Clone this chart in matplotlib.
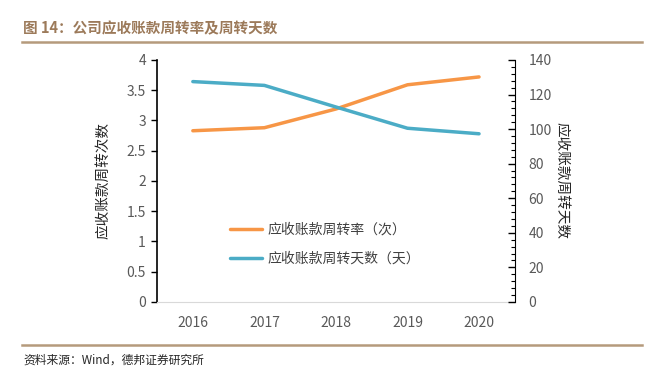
import matplotlib.pyplot as plt
from matplotlib.lines import Line2D
from matplotlib.ticker import MultipleLocator

plt.rcParams['font.family'] = ['Noto Sans CJK SC', 'DejaVu Sans']

# 数据
anos = ["2016", "2017", "2018", "2019", "2020"]
taxa = [2.83, 2.88, 3.19, 3.59, 3.72]
dias = [127.5, 125.3, 112.8, 100.5, 97.3]

fig = plt.figure(figsize=(6.6, 3.75), dpi=100)
ax = fig.add_axes([0.238, 0.195, 0.542, 0.645])
ax2 = ax.twinx()

x = list(range(len(anos)))
l1, = ax.plot(x, taxa, color="#F79646", linewidth=2.5, solid_capstyle="round")
l2, = ax2.plot(x, dias, color="#4BACC6", linewidth=2.5, solid_capstyle="round")

ax.set_xlim(-0.5, len(anos) - 0.5)
ax.set_ylim(0, 4)
ax2.set_ylim(0, 140)
ax.set_yticks([0, 0.5, 1, 1.5, 2, 2.5, 3, 3.5, 4])
ax.set_yticklabels(["0", "0.5", "1", "1.5", "2", "2.5", "3", "3.5", "4"])
ax2.set_yticks(range(0, 141, 20))
ax2.yaxis.set_minor_locator(MultipleLocator(4))
ax.set_xticks(x)
ax.set_xticklabels(anos)

for a in (ax, ax2):
    a.spines["top"].set_visible(False)
ax.spines["right"].set_visible(False)
ax.spines["left"].set_visible(False)
ax2.spines["left"].set_visible(False)
ax.spines["bottom"].set_color("#D9D9D9")
ax2.spines["bottom"].set_visible(False)
ax2.spines["right"].set_color("black")

# eixo esquerdo desenhado como linha preta
ax.axvline(-0.5, color="black", linewidth=1.2, clip_on=False)

ax.tick_params(axis="y", colors="black", labelcolor="#595959", labelsize=10, length=4, width=1, pad=4)
ax.tick_params(axis="x", length=0, labelcolor="#595959", labelsize=10, pad=10)
ax2.tick_params(axis="y", which="major", direction="in", length=5, width=1, labelcolor="#595959", labelsize=10, pad=10)
ax2.tick_params(axis="y", which="minor", direction="in", length=3, width=0.8)

ax.set_ylabel("应收账款周转次数", fontsize=10.5, color="#262626", labelpad=12)
ax2.set_ylabel("应收账款周转天数", fontsize=10.5, color="#262626", rotation=270, labelpad=12)

leg = ax.legend([l1, l2], ["应收账款周转率（次）", "应收账款周转天数（天）"],
                loc="upper left", bbox_to_anchor=(0.17, 0.38), frameon=False,
                fontsize=10, labelcolor="#404040", handlelength=2.3,
                handletextpad=0.4, labelspacing=1.1)

# título e linhas decorativas
fig.text(0.035, 0.925, "图 14：公司应收账款周转率及周转天数", fontsize=10.5,
         color="#9C7A5A", fontweight="bold", ha="left", va="center")
fig.add_artist(Line2D([0.033, 0.973], [0.887, 0.887], color="#B59A7C", linewidth=1.8))
fig.add_artist(Line2D([0.033, 0.973], [0.08, 0.08], color="#B59A7C", linewidth=1.8))
fig.text(0.035, 0.04, "资料来源：Wind，德邦证券研究所", fontsize=8.5, color="#262626",
         ha="left", va="center")

plt.savefig("out.png", dpi=100)
